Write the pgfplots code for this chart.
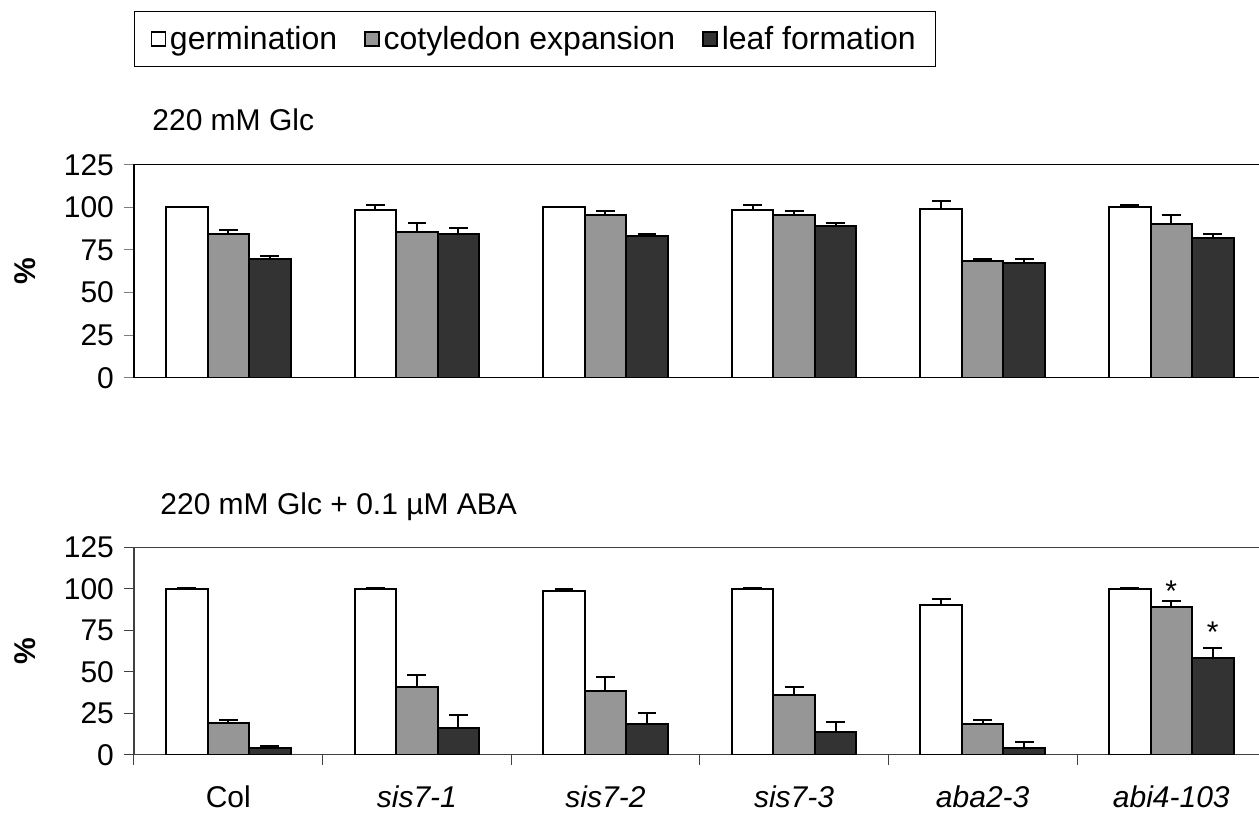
\documentclass[border=0pt]{standalone}
\usepackage{pgfplots}
\pgfplotsset{compat=1.18}
\usepackage{pgfplotstable}
\usepackage{fontspec}
\setmainfont{Liberation Sans}
\newcommand\fs{\fontsize{15}{18}\selectfont}
\definecolor{barMid}{HTML}{969696}
\definecolor{barDark}{HTML}{333333}

% 220 mM Glc
\pgfplotstableread{
x g ge c ce l le
0 100 0.3 84.1 2.5 69.8 1.4
1 98.6 2.5 85.5 5.0 84.3 3.7
2 100 0.3 95.3 2.3 83.1 1.2
3 98.6 2.7 95.3 2.3 89.0 1.6
4 98.8 4.7 68.7 1.2 67.5 2.3
5 100 1.5 90.4 4.9 82.0 2.3
}\glc

% 220 mM Glc + 0.1 uM ABA (cm, lm: significance marks)
\pgfplotstableread{
x g ge c ce cm l le lm
0 100 0.2 18.9 2.2 {} 3.8 1.4 {}
1 100 0.2 40.8 7.4 {} 16.1 7.6 {}
2 98.9 1.2 38.4 8.4 {} 18.7 6.2 {}
3 100 0.2 36.0 5.0 {} 13.7 6.0 {}
4 90.2 3.8 18.7 2.2 {} 3.8 3.8 {}
5 100 0.2 89.0 3.6 * 58.3 6.0 *
}\aba

\pgfplotsset{
  panel/.style={
    scale only axis, width=565.8pt,
    ybar=0pt, bar width=20.75pt,
    xmin=-0.5, xmax=5.5, ymin=0, ymax=125,
    ytick={0,25,...,125}, ytick pos=left,
    tick align=outside, major tick length=5pt,
    tick style={line width=0.5pt},
    ticklabel style={font=\fs},
    /pgf/number format/assume math mode=true,
    yticklabel style={xshift=-1.5pt},
    axis line style={line width=0.6pt},
    ylabel={\textbf{\%}},
    ylabel style={font=\fs, at={(axis description cs:-0.0963,0.5)}, anchor=center},
    title style={at={(axis description cs:0,1)}, anchor=base west, inner sep=0pt, font=\fs},
  },
  bars/.style={
    draw=black, line width=1pt, fill=#1,
    error bars/y dir=plus, error bars/y explicit,
    error bars/error bar style={line width=1pt, black},
    error bars/error mark options={rotate=90, line width=1pt, mark size=4.7pt, black},
    legend image code/.code={\draw[fill=#1, draw=black, line width=0.7pt] (0pt,-3.5pt) rectangle (7pt,3.5pt);},
  },
  star/.style={
    nodes near coords, point meta=explicit symbolic,
    every node near coord/.append style={font=\fs, inner sep=0pt, anchor=south, yshift=#1},
  },
}

\begin{document}
\begin{tikzpicture}
\path[use as bounding box] (0,0) rectangle (629.5pt,-407.5pt);

\begin{axis}[panel, at={(67pt,-188.85pt)}, anchor=south west, height=106.5pt,
  xtick=\empty,
  title={220 mM Glc}, title style={xshift=9pt, yshift=11.2pt},
  legend columns=-1,
  legend style={at={(axis description cs:0,1)}, anchor=north west, yshift=77pt,
    font=\fontsize{16}{18}\selectfont, draw=black, line width=0.6pt,
    inner xsep=8pt, inner ysep=5.3pt,
    /tikz/every even column/.append style={column sep=11.5pt}},
]
\addplot[bars=white] table[x=x, y=g, y error=ge] {\glc};
\addplot[bars=barMid] table[x=x, y=c, y error=ce] {\glc};
\addplot[bars=barDark] table[x=x, y=l, y error=le] {\glc};
\legend{germination, cotyledon expansion, leaf formation}
\end{axis}

\begin{axis}[panel, at={(67pt,-377.35pt)}, anchor=south west, height=103.7pt,
  axis line style={black!75}, tick style={black!75},
  xtick={-0.5,0.5,...,4.5}, xticklabels={}, xtick pos=bottom,
  extra x ticks={0,1,2,3,4,5},
  extra x tick labels={Col, \textit{sis7-1}, \textit{sis7-2}, \textit{sis7-3}, \textit{aba2-3}, \textit{abi4-103}},
  extra x tick style={major tick length=0pt, xticklabel style={anchor=base, yshift=-26.6pt}},
  title={220 mM Glc + 0.1 µM ABA}, title style={xshift=13pt, yshift=10.2pt},
]
\addplot[bars=white] table[x=x, y=g, y error=ge] {\aba};
\addplot[bars=barMid, star=2.3pt] table[x=x, y=c, y error=ce, meta=cm] {\aba};
\addplot[bars=barDark, star=7pt] table[x=x, y=l, y error=le, meta=lm] {\aba};
\end{axis}
\end{tikzpicture}
\end{document}
